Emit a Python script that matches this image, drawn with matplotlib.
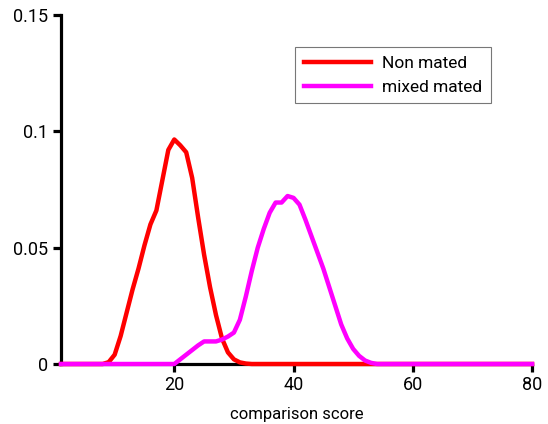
import numpy as np
import matplotlib
matplotlib.use('Agg')
import matplotlib.pyplot as plt

plt.rcParams['font.family'] = ['Roboto', 'DejaVu Sans']

score = np.arange(1, 81)

non_mated_head = [0.0008, 0.004, 0.012, 0.022, 0.032, 0.041, 0.051, 0.060, 0.066, 0.079,
                  0.092, 0.0965, 0.094, 0.091, 0.080, 0.063, 0.047, 0.033, 0.021, 0.011,
                  0.005, 0.002, 0.0007, 0.0002]
non_mated = [0.0] * 8 + non_mated_head + [0.0] * (80 - 8 - len(non_mated_head))

mixed_head = [0.0, 0.002, 0.004, 0.006, 0.008, 0.0097, 0.0097, 0.0097, 0.0105, 0.0118,
              0.0135, 0.019, 0.029, 0.040, 0.050, 0.058, 0.065, 0.0694, 0.0694, 0.0722,
              0.0714, 0.0685, 0.062, 0.055, 0.048, 0.041, 0.033, 0.025, 0.017, 0.011,
              0.0065, 0.0035, 0.0015, 0.0005]
mixed_mated = [0.0] * 19 + mixed_head + [0.0] * (80 - 19 - len(mixed_head))

fig = plt.figure(figsize=(5.48, 4.24), dpi=100)
ax = fig.add_axes([61 / 548, 1 - 364 / 424, (532 - 61) / 548, (364 - 15) / 424])

ax.plot(score, non_mated, color='#ff0000', lw=3.2, label='Non mated', clip_on=False, zorder=3)
ax.plot(score, mixed_mated, color='#ff00ff', lw=3.2, label='mixed mated', clip_on=False, zorder=4)

ax.set_xlim(1, 80)
ax.set_ylim(0, 0.15)
ax.set_xticks([20, 40, 60, 80])
ax.set_yticks([0, 0.05, 0.1, 0.15])
ax.set_yticklabels(['0', '0.05', '0.1', '0.15'])
ax.set_xlabel('comparison score', fontsize=12, labelpad=9)

for side in ['top', 'right']:
    ax.spines[side].set_visible(False)
for side in ['left', 'bottom']:
    ax.spines[side].set_linewidth(2.3)
    ax.spines[side].set_zorder(2)
ax.tick_params(width=2.3, length=6, labelsize=13, color='black', pad=3)

leg = ax.legend(loc='upper left', bbox_to_anchor=(295 / 548, 1 - 47 / 424),
                bbox_transform=fig.transFigure, fontsize=12.5, frameon=True,
                fancybox=False, handlelength=3.9, borderpad=0.5, labelspacing=0.5,
                handletextpad=0.6, borderaxespad=0)
leg.get_frame().set_edgecolor('#555555')
leg.get_frame().set_linewidth(0.8)

fig.savefig('out.png', dpi=100)
